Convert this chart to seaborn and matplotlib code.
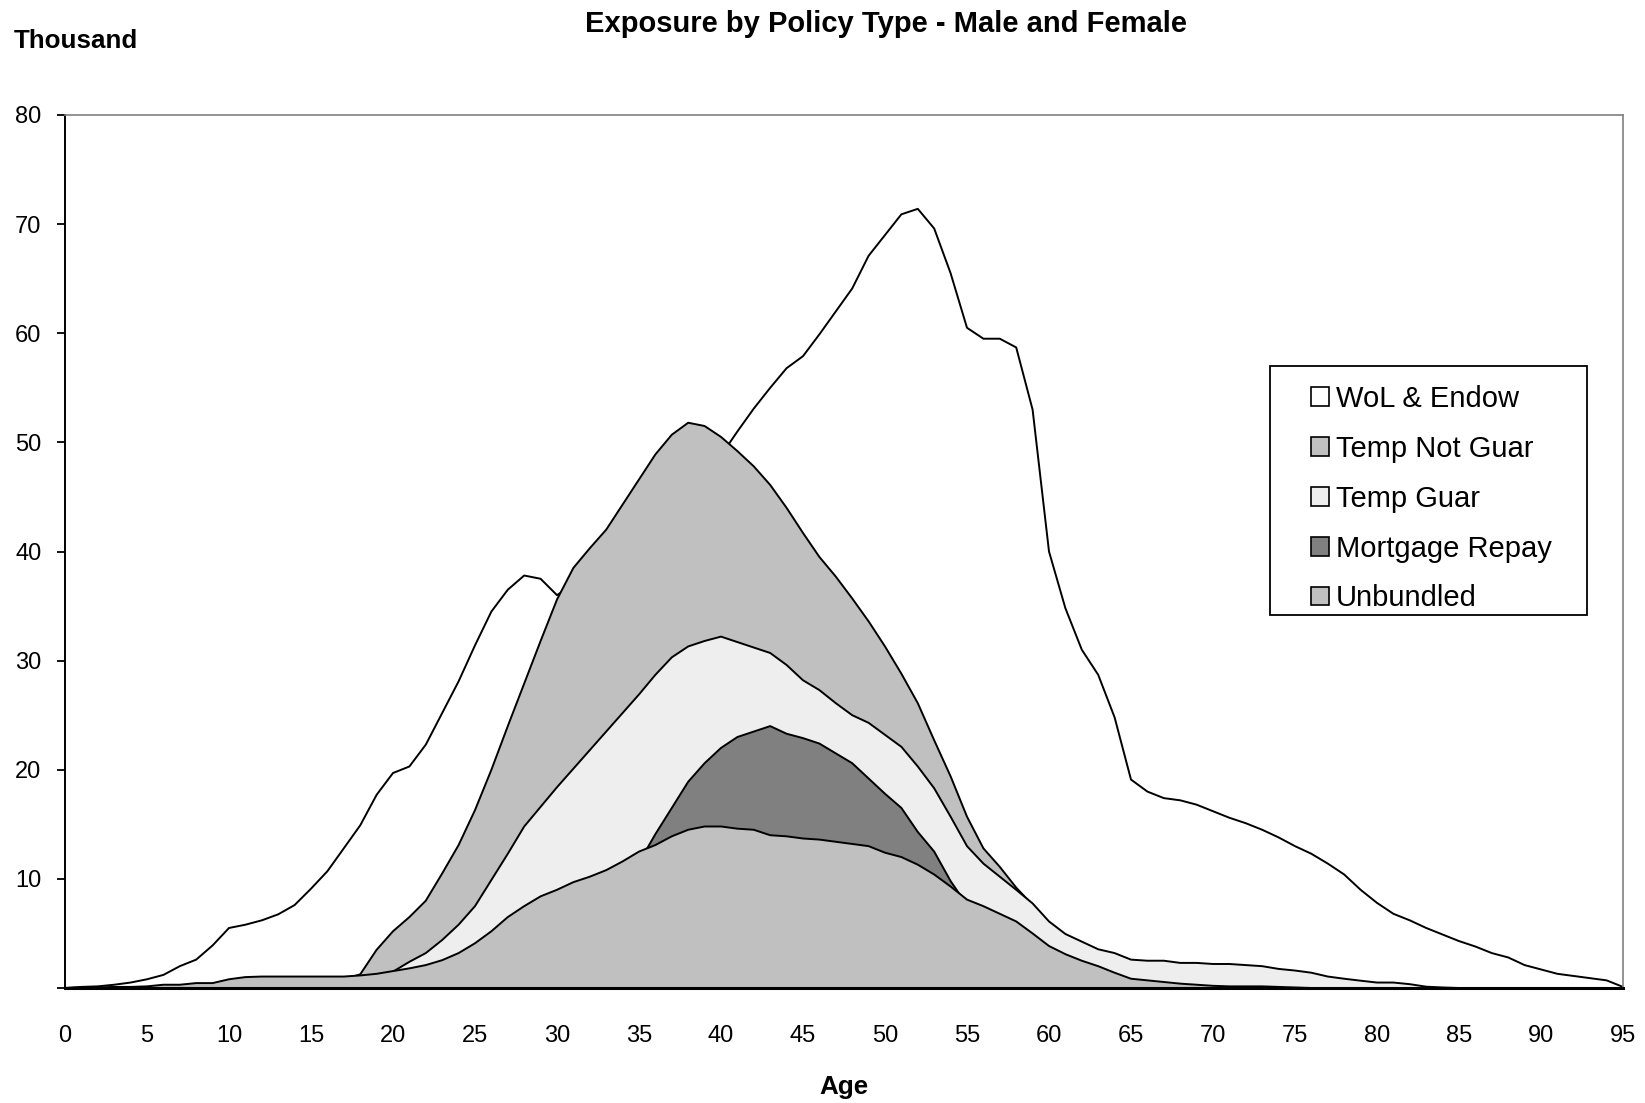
import matplotlib
matplotlib.use("Agg")
import matplotlib.pyplot as plt
import seaborn as sns
from matplotlib.patches import Patch, Rectangle

# ---------------- data (thousands) ----------------
ages = list(range(96))

wol_endow = [0, 0.1, 0.15, 0.3, 0.5, 0.8, 1.2, 2.0, 2.6, 3.9,
             5.5, 5.8, 6.2, 6.75, 7.6, 9.1, 10.7, 12.8, 14.9, 17.7,
             19.7, 20.3, 22.3, 25.2, 28.1, 31.4, 34.5, 36.5, 37.8, 37.5,
             36.0, 37.0, 38.5, 40.0, 41.5, 43.0, 44.5, 46.0, 47.3, 48.2,
             48.8, 51.0, 53.1, 55.0, 56.8, 57.9, 59.9, 62.0, 64.1, 67.1,
             69.0, 70.9, 71.4, 69.6, 65.5, 60.5, 59.5, 59.5, 58.7, 53.0,
             40.0, 34.8, 31.0, 28.7, 24.8, 19.1, 18.0, 17.4, 17.2, 16.8,
             16.2, 15.6, 15.1, 14.5, 13.8, 13.0, 12.3, 11.4, 10.4, 9.0,
             7.8, 6.8, 6.2, 5.5, 4.9, 4.3, 3.8, 3.2, 2.8, 2.1,
             1.7, 1.3, 1.1, 0.9, 0.7, 0.1]

temp_not_guar = [0, 0, 0, 0, 0, 0, 0, 0, 0, 0,
                 0, 0, 0, 0, 0, 0, 0.3, 0.8, 1.25, 3.5,
                 5.2, 6.5, 8.0, 10.5, 13.1, 16.3, 20.0, 24.0, 27.9, 31.8,
                 35.6, 38.5, 40.3, 42.0, 44.3, 46.6, 48.9, 50.7, 51.8, 51.5,
                 50.5, 49.2, 47.8, 46.1, 44.0, 41.7, 39.5, 37.7, 35.7, 33.6,
                 31.3, 28.8, 26.1, 22.7, 19.4, 15.7, 12.8, 11.1, 9.2, 7.6,
                 5.2, 3.6, 2.6, 1.9, 1.4, 1.0, 0.7, 0.5, 0.4, 0.3,
                 0.2, 0.1, 0, 0, 0, 0, 0, 0, 0, 0,
                 0, 0, 0, 0, 0, 0, 0, 0, 0, 0,
                 0, 0, 0, 0, 0, 0]

temp_guar = [0, 0, 0, 0, 0, 0, 0, 0, 0, 0,
             0, 0, 0, 0, 0, 0, 0, 0, 0.5, 1.0,
             1.5, 2.4, 3.2, 4.4, 5.8, 7.5, 9.9, 12.3, 14.8, 16.6,
             18.4, 20.1, 21.8, 23.5, 25.2, 26.9, 28.7, 30.3, 31.3, 31.8,
             32.2, 31.7, 31.2, 30.7, 29.6, 28.2, 27.3, 26.1, 25.0, 24.3,
             23.2, 22.1, 20.3, 18.3, 15.7, 13.0, 11.4, 10.2, 9.0, 7.75,
             6.1, 4.95, 4.25, 3.55, 3.2, 2.6, 2.5, 2.5, 2.3, 2.3,
             2.2, 2.2, 2.1, 2.0, 1.75, 1.6, 1.4, 1.05, 0.85, 0.67,
             0.5, 0.5, 0.35, 0.12, 0.05, 0, 0, 0, 0, 0,
             0, 0, 0, 0, 0, 0]

mortgage_repay = [0, 0, 0, 0, 0, 0, 0, 0, 0, 0,
                  0, 0, 0, 0, 0, 0, 0, 0, 0, 0,
                  0, 0, 0, 0.5, 1.0, 1.5, 2.2, 3.0, 3.8, 4.6,
                  5.5, 6.4, 7.4, 8.5, 10.0, 11.5, 14.1, 16.5, 18.9, 20.6,
                  22.0, 23.0, 23.5, 24.0, 23.3, 22.9, 22.4, 21.5, 20.6, 19.2,
                  17.8, 16.5, 14.3, 12.5, 9.8, 7.6, 5.5, 4.0, 3.0, 2.2,
                  1.5, 1.0, 0.6, 0.4, 0.2, 0.1, 0, 0, 0, 0,
                  0, 0, 0, 0, 0, 0, 0, 0, 0, 0,
                  0, 0, 0, 0, 0, 0, 0, 0, 0, 0,
                  0, 0, 0, 0, 0, 0]

unbundled = [0, 0.05, 0.05, 0.1, 0.1, 0.15, 0.3, 0.3, 0.45, 0.45,
             0.8, 1.0, 1.05, 1.05, 1.05, 1.05, 1.05, 1.05, 1.15, 1.3,
             1.55, 1.8, 2.1, 2.55, 3.2, 4.1, 5.2, 6.5, 7.5, 8.4,
             9.0, 9.7, 10.2, 10.8, 11.6, 12.5, 13.1, 13.9, 14.5, 14.8,
             14.8, 14.6, 14.5, 14.0, 13.9, 13.7, 13.6, 13.4, 13.2, 13.0,
             12.4, 12.0, 11.3, 10.4, 9.3, 8.1, 7.5, 6.8, 6.1, 5.0,
             3.85, 3.1, 2.5, 2.0, 1.4, 0.85, 0.7, 0.55, 0.4, 0.3,
             0.2, 0.15, 0.15, 0.15, 0.1, 0.05, 0, 0, 0, 0,
             0, 0, 0, 0, 0, 0, 0, 0, 0, 0,
             0, 0, 0, 0, 0, 0]

series_names = ["WoL & Endow", "Temp Not Guar", "Temp Guar", "Mortgage Repay", "Unbundled"]
series_values = [wol_endow, temp_not_guar, temp_guar, mortgage_repay, unbundled]
series_colors = ["#FFFFFF", "#C0C0C0", "#EEEEEE", "#808080", "#C0C0C0"]

x_ticks = list(range(0, 96, 5))
y_ticks = list(range(0, 81, 10))
y_tick_labels = [""] + [str(v) for v in range(10, 81, 10)]

title_text = "Exposure by Policy Type - Male and Female"
unit_text = "Thousand"
x_label = "Age"

# ---------------- style ----------------
sns.set_theme(style="white")
plt.rcParams['font.family'] = ['Liberation Sans', 'DejaVu Sans']
plt.rcParams['text.color'] = 'black'
plt.rcParams['axes.labelcolor'] = 'black'
plt.rcParams['xtick.color'] = 'black'
plt.rcParams['ytick.color'] = 'black'

W, H = 1645, 1103
fig = plt.figure(figsize=(W / 100, H / 100), dpi=100)
fig.patch.set_facecolor("white")

L, R, T, B = 65, 1623, 115, 988
ax = fig.add_axes([L / W, 1 - B / H, (R - L) / W, (B - T) / H])
ax.set_facecolor("white")

# back-to-front: WoL first, Unbundled last (overlapping, not stacked)
for i, (name, vals, col) in enumerate(zip(series_names, series_values, series_colors)):
    ax.fill_between(ages, 0, vals, facecolor=col, edgecolor="none", zorder=2 + 2 * i)
    sns.lineplot(x=ages, y=vals, color="black", linewidth=1.4, ax=ax,
                 zorder=3 + 2 * i, legend=False, estimator=None)

ax.set_xlim(0, 95)
ax.set_ylim(0, 80)
ax.set_xticks(x_ticks)
ax.set_xticklabels([str(v) for v in x_ticks])
ax.set_yticks(y_ticks)
ax.set_yticklabels(y_tick_labels)
ax.tick_params(axis="x", length=0, pad=27, labelsize=17, colors="black")
ax.tick_params(axis="y", length=6, width=1.3, direction="out", pad=11,
               labelsize=17, colors="black", left=True)
ax.set_xlabel("")
ax.set_ylabel("")
ax.grid(False)

for side in ["left", "bottom"]:
    ax.spines[side].set_color("black")
    ax.spines[side].set_visible(True)
ax.spines["left"].set_linewidth(1.4)
ax.spines["bottom"].set_linewidth(2.2)
for side in ["top", "right"]:
    ax.spines[side].set_color("#808080")
    ax.spines[side].set_linewidth(1.2)
    ax.spines[side].set_visible(True)
for s in ax.spines.values():
    s.set_zorder(20)

# texts
fig.text(886 / W, 1 - 32.5 / H, title_text, ha="center", va="baseline",
         fontsize=21, fontweight="bold", color="black")
fig.text(14 / W, 1 - 48 / H, unit_text, ha="left", va="baseline",
         fontsize=18.7, fontweight="bold", color="black")
fig.text(844 / W, 1 - 1094 / H, x_label, ha="center", va="baseline",
         fontsize=18.7, fontweight="bold", color="black")

# legend box (behind legend entries)
ax.add_patch(Rectangle((1270 / W, 1 - 615 / H), (1587 - 1270) / W, (615 - 366) / H,
                       transform=fig.transFigure, facecolor="white",
                       edgecolor="black", linewidth=1.3, zorder=25, clip_on=False))

handles = [Patch(facecolor=c, edgecolor="black", linewidth=1.2) for c in series_colors]
leg = ax.legend(handles, series_names, loc="upper left",
                bbox_to_anchor=(1311 / W, 1 - 385 / H), bbox_transform=fig.transFigure,
                frameon=False, fontsize=21, handlelength=0.6, handleheight=0.6,
                handletextpad=0.25, labelspacing=0.75, borderpad=0, borderaxespad=0)
leg.set_zorder(30)
for t in leg.get_texts():
    t.set_color("black")

fig.savefig("out.png", dpi=100, facecolor="white")
